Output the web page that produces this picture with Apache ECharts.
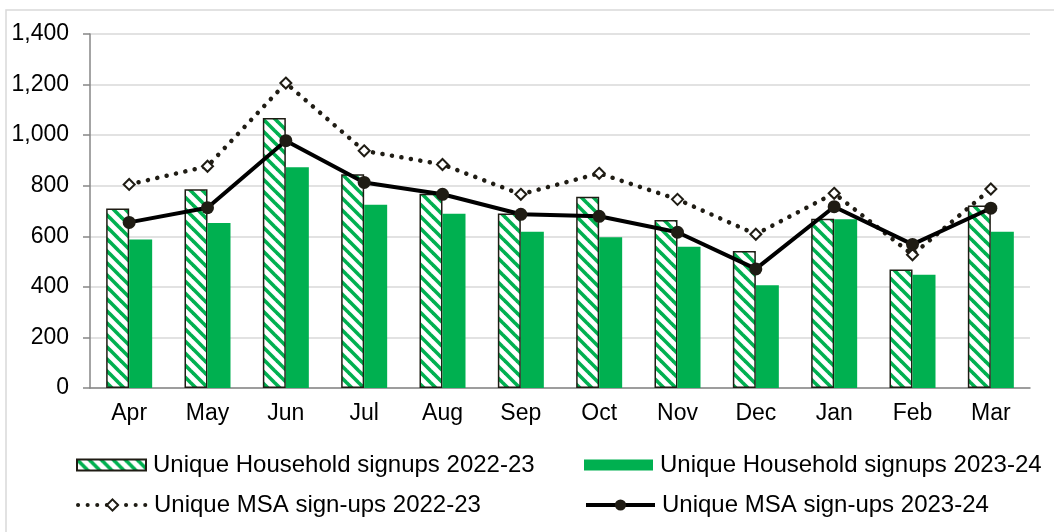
<!DOCTYPE html>
<html>
<head>
<meta charset="utf-8">
<script src="https://cdn.jsdelivr.net/npm/echarts@6/dist/echarts.min.js"></script>
<style>
  html, body { margin: 0; padding: 0; background: #fff; }
  #main { width: 1054px; height: 532px; }
</style>
</head>
<body>
<div id="main"></div>
<script>
// months
var months = ['Apr', 'May', 'Jun', 'Jul', 'Aug', 'Sep', 'Oct', 'Nov', 'Dec', 'Jan', 'Feb', 'Mar'];
// household signups
var hh2223 = [710, 786, 1068, 845, 768, 690, 756, 664, 542, 669, 469, 722];
var hh2324 = [587, 653, 873, 725, 689, 618, 596, 559, 406, 667, 448, 618];
// MSA sign-ups
var msa2223 = [805, 877, 1206, 938, 884, 766, 849, 746, 608, 770, 527, 787];
var msa2324 = [655, 713, 978, 813, 766, 687, 679, 616, 471, 717, 568, 711];

var names = [
    'Unique Household signups 2022-23',
    'Unique Household signups 2023-24',
    'Unique MSA sign-ups 2022-23',
    'Unique MSA sign-ups 2023-24'
];

var green = '#00b050';
var ink = '#1f1c14';
var font = 'Liberation Sans, Arial, sans-serif';

// diagonal hatch tile for the 2022-23 bars
var tile = document.createElement('canvas');
tile.width = 12;
tile.height = 12;
var ctx = tile.getContext('2d');
ctx.fillStyle = '#fff';
ctx.fillRect(0, 0, 12, 12);
ctx.strokeStyle = green;
ctx.lineWidth = 3.6;
for (var k = -1; k <= 1; k++) {
    ctx.beginPath();
    ctx.moveTo(k * 12 - 2, -2);
    ctx.lineTo(k * 12 + 14, 14);
    ctx.stroke();
}

function legendAt(name, left, top, h, extra) {
    var item = { name: name };
    for (var key in extra) item[key] = extra[key];
    return {
        data: [item],
        left: left,
        top: top,
        itemWidth: 69,
        itemHeight: h,
        itemGap: 0,
        padding: 0,
        textStyle: { fontFamily: font, fontSize: 24, color: '#000', padding: [0, 0, 0, 2] },
        selectedMode: false
    };
}

var myChart = echarts.init(document.getElementById('main'));
var option = {
    backgroundColor: '#fff',
    animation: false,
    graphic: [{
        type: 'rect',
        shape: { x: 6, y: 10, width: 1100, height: 600 },
        style: { fill: 'none', stroke: '#d9d9d9', lineWidth: 1.5 },
        silent: true
    }],
    legend: [
        legendAt(names[0], 76, 453, 11, { icon: 'rect' }),
        legendAt(names[1], 584, 453, 11, { icon: 'rect' }),
        legendAt(names[2], 76, 493, 14, { lineStyle: { width: 4 } }),
        legendAt(names[3], 584, 493, 14, { lineStyle: { width: 4 } })
    ],
    grid: { left: 90, right: 24, top: 34, bottom: 144 },
    xAxis: {
        type: 'category',
        data: months,
        axisLine: { lineStyle: { color: '#868686', width: 1.5 } },
        axisTick: { length: 7, lineStyle: { color: '#868686', width: 1.5 } },
        axisLabel: { fontFamily: font, fontSize: 23, color: '#000', margin: 14 }
    },
    yAxis: {
        type: 'value',
        min: 0,
        max: 1400,
        interval: 200,
        axisLine: { show: true, lineStyle: { color: '#868686', width: 1.5 } },
        axisTick: { show: true, length: 7, lineStyle: { color: '#868686', width: 1.5 } },
        splitLine: { lineStyle: { color: '#d9d9d9', width: 1.5 } },
        axisLabel: {
            fontFamily: font, fontSize: 23, color: '#000', margin: 21,
            formatter: function (v) { return v.toLocaleString('en-US'); }
        }
    },
    series: [
        {
            name: names[0],
            type: 'bar',
            data: hh2223,
            barWidth: 23,
            barGap: '0%',
            itemStyle: {
                color: { image: tile, repeat: 'repeat' },
                borderColor: ink,
                borderWidth: 1.5
            }
        },
        {
            name: names[1],
            type: 'bar',
            data: hh2324,
            barWidth: 23,
            barGap: '0%',
            itemStyle: { color: green }
        },
        {
            name: names[2],
            type: 'line',
            data: msa2223,
            symbol: 'diamond',
            symbolSize: 11,
            lineStyle: { color: ink, width: 4.5, type: [0.1, 9.5], cap: 'round' },
            itemStyle: { color: '#fff', borderColor: ink, borderWidth: 2 },
            z: 3
        },
        {
            name: names[3],
            type: 'line',
            data: msa2324,
            symbol: 'circle',
            symbolSize: 13,
            lineStyle: { color: '#000', width: 4 },
            itemStyle: { color: ink, borderColor: ink, borderWidth: 0 },
            z: 4
        }
    ]
};
myChart.setOption(option);
</script>
</body>
</html>
